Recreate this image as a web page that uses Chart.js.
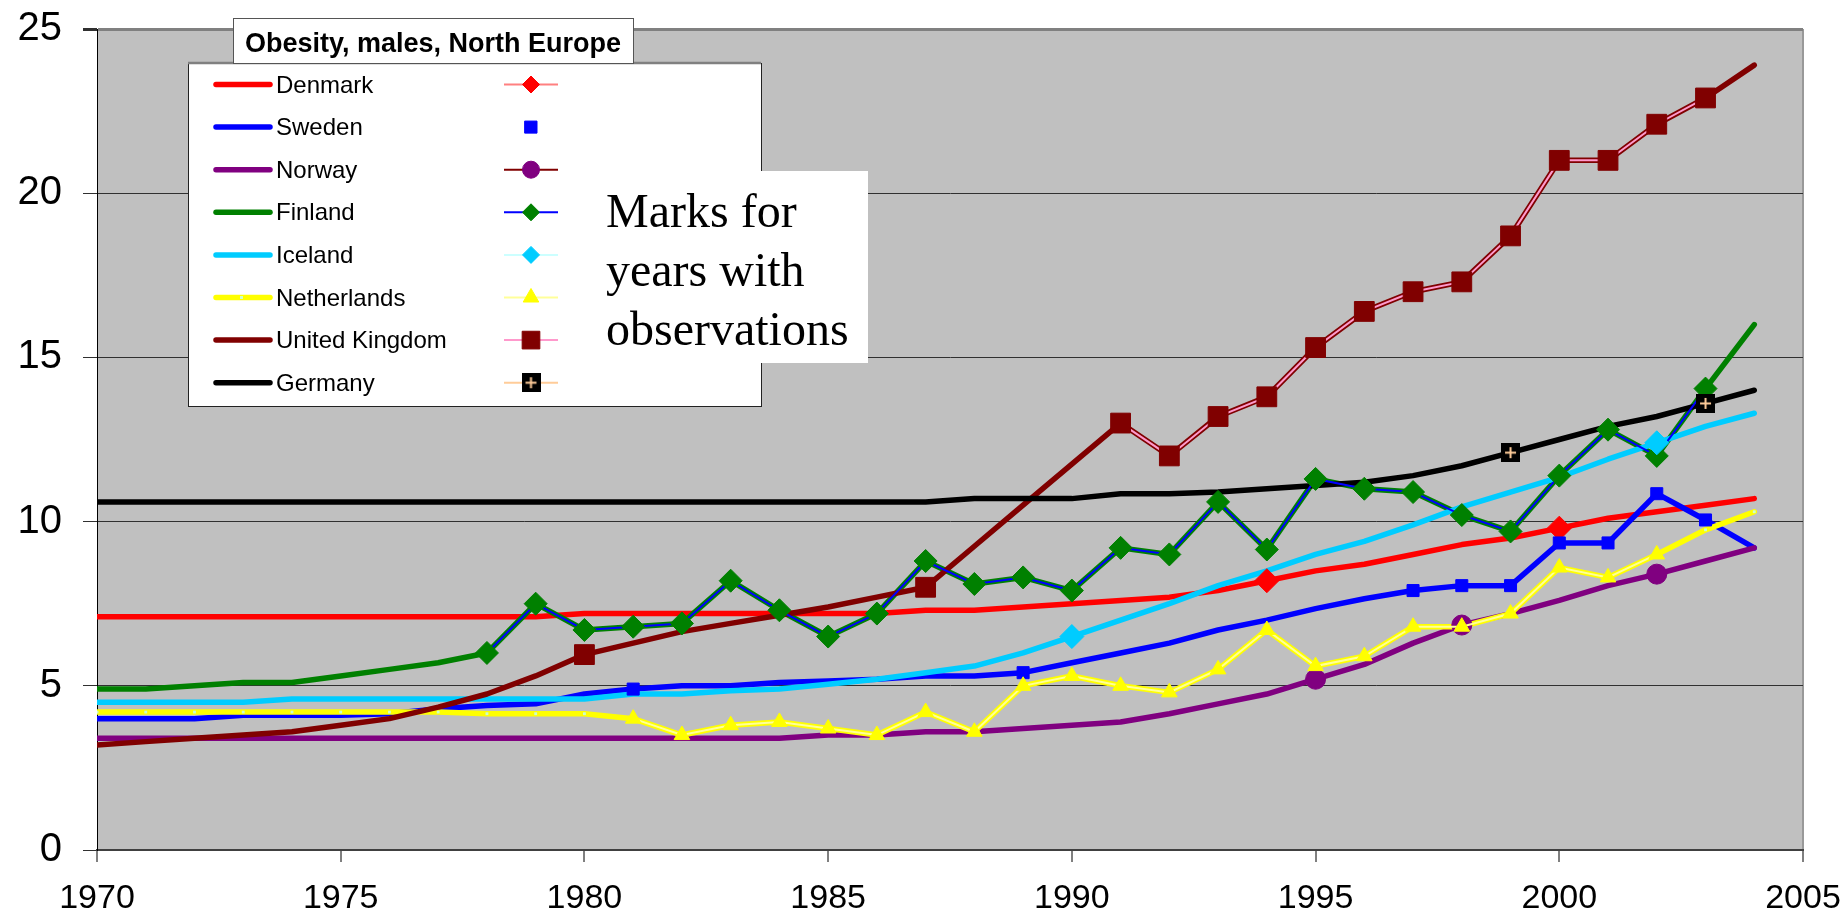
<!DOCTYPE html>
<html>
<head>
<meta charset="utf-8">
<title>Obesity, males, North Europe</title>
<script src="https://cdn.jsdelivr.net/npm/chart.js@4.4.1/dist/chart.umd.min.js"></script>
<style>
  html, body { margin: 0; padding: 0; background: #fff; }
  #wrap { width: 1847px; height: 918px; }
</style>
</head>
<body>
<div id="wrap"><canvas id="chart" width="1847" height="918"></canvas></div>
<script>
// =====================
// DATA (share of obese males, %)
// =====================
const years = [1970,1971,1972,1973,1974,1975,1976,1977,1978,1979,
               1980,1981,1982,1983,1984,1985,1986,1987,1988,1989,
               1990,1991,1992,1993,1994,1995,1996,1997,1998,1999,
               2000,2001,2002,2003,2004]

const denmark = [7.1,7.1,7.1,7.1,7.1,7.1,7.1,7.1,7.1,7.1,
                 7.2,7.2,7.2,7.2,7.2,7.2,7.2,7.3,7.3,7.4,
                 7.5,7.6,7.7,7.9,8.2,8.5,8.7,9.0,9.3,9.5,
                 9.8,10.1,10.3,10.5,10.7]
const sweden = [4.0,4.0,4.0,4.1,4.1,4.1,4.15,4.3,4.4,4.45,
                4.75,4.9,5.0,5.0,5.1,5.15,5.2,5.3,5.3,5.4,
                5.7,6.0,6.3,6.7,7.0,7.35,7.65,7.9,8.05,8.05,
                9.35,9.35,10.85,10.05,9.2]
const norway = [3.4,3.4,3.4,3.4,3.4,3.4,3.4,3.4,3.4,3.4,
                3.4,3.4,3.4,3.4,3.4,3.5,3.5,3.6,3.6,3.7,
                3.8,3.9,4.15,4.45,4.75,5.2,5.65,6.3,6.85,7.2,
                7.6,8.05,8.4,8.8,9.2]
const finland = [4.9,4.9,5.0,5.1,5.1,5.3,5.5,5.7,6.0,7.5,
                 6.7,6.8,6.9,8.2,7.3,6.5,7.2,8.8,8.1,8.3,
                 7.9,9.2,9.0,10.6,9.15,11.3,11.0,10.9,10.2,9.7,
                 11.4,12.8,12.0,14.05,16.0]
const iceland = [4.5,4.5,4.5,4.5,4.6,4.6,4.6,4.6,4.6,4.6,
                 4.6,4.75,4.75,4.85,4.9,5.05,5.2,5.4,5.6,6.0,
                 6.5,7.0,7.5,8.05,8.5,9.0,9.4,9.9,10.45,10.9,
                 11.35,11.9,12.4,12.9,13.3]
const netherlands = [4.2,4.2,4.2,4.2,4.2,4.2,4.2,4.2,4.15,4.15,
                     4.15,4.0,3.5,3.8,3.9,3.7,3.5,4.2,3.6,5.0,
                     5.3,5.0,4.8,5.5,6.7,5.6,5.9,6.8,6.8,7.2,
                     8.6,8.3,9.0,9.75,10.3]
const unitedKingdom = [3.2,3.3,3.4,3.5,3.6,3.8,4.0,4.35,4.75,5.3,
                       5.95,6.3,6.65,6.9,7.15,7.4,7.7,8.0,9.25,10.5,
                       11.75,13.0,12.0,13.2,13.8,15.3,16.4,17.0,17.3,18.7,
                       21.0,21.0,22.1,22.9,23.9]
const germany = [10.6,10.6,10.6,10.6,10.6,10.6,10.6,10.6,10.6,10.6,
                 10.6,10.6,10.6,10.6,10.6,10.6,10.6,10.6,10.7,10.7,
                 10.7,10.85,10.85,10.9,11.0,11.1,11.2,11.4,11.7,12.1,
                 12.5,12.9,13.2,13.6,14.0]

// years with observations (marked)
const denmarkObs = [1994, 2000]
const swedenObs = [1981, 1989, 1997, 1998, 1999, 2000, 2001, 2002, 2003]
const norwayObs = [1995, 1998, 2002]
const finlandObs = [1978,1979,1980,1981,1982,1983,1984,1985,1986,1987,1988,1989,1990,
                    1991,1992,1993,1994,1995,1996,1997,1998,1999,2000,2001,2002,2003]
const icelandObs = [1990, 2002]
const netherlandsObs = [1981,1982,1983,1984,1985,1986,1987,1988,1989,1990,1991,
                        1992,1993,1994,1995,1996,1997,1998,1999,2000,2001,2002]
const unitedKingdomObs = [1980,1987,1991,1992,1993,1994,1995,1996,1997,1998,1999,2000,2001,2002,2003]
const germanyObs = [1999, 2003]

const chartTitle = "Obesity, males, North Europe"
const noteLines = ["Marks for", "years with", "observations"]

// =====================
// STYLES
// =====================
// black square with a peach cross, used for Germany
function crossMark(){
  const c = document.createElement("canvas")
  c.width = 19; c.height = 19
  const g = c.getContext("2d")
  g.fillStyle = "#000"
  g.fillRect(0, 0, 19, 19)
  g.strokeStyle = "#FFCC99"
  g.lineWidth = 2
  g.beginPath()
  g.moveTo(4, 9.5); g.lineTo(15, 9.5)
  g.moveTo(9.5, 4); g.lineTo(9.5, 15)
  g.stroke()
  return c
}

const countries = [
  {name:"Denmark", values:denmark, obs:denmarkObs, line:"#FF0000", obsLine:"#FF8080", mark:"#FF0000", style:"rectRot", r:12, join:true},
  {name:"Sweden", values:sweden, obs:swedenObs, line:"#0000FF", obsLine:"#0000FF", mark:"#0000FF", style:"rect", r:8.5, join:false},
  {name:"Norway", values:norway, obs:norwayObs, line:"#800080", obsLine:"#800000", mark:"#800080", style:"circle", r:10, join:true},
  {name:"Finland", values:finland, obs:finlandObs, line:"#008000", obsLine:"#0000FF", mark:"#008000", style:"rectRot", r:11.5, join:true},
  {name:"Iceland", values:iceland, obs:icelandObs, line:"#00CCFF", obsLine:"#CCFFFF", mark:"#00CCFF", style:"rectRot", r:12, join:true},
  {name:"Netherlands", values:netherlands, obs:netherlandsObs, line:"#FFFF00", obsLine:"#FFFF99", mark:"#FFFF00", style:"triangle", r:9, join:true},
  {name:"United Kingdom", values:unitedKingdom, obs:unitedKingdomObs, line:"#800000", obsLine:"#FF99CC", mark:"#800000", style:"rect", r:14, join:true},
  {name:"Germany", values:germany, obs:germanyObs, line:"#000000", obsLine:"#FFCC99", mark:"#000000", style:crossMark(), r:10, join:true}
]

// =====================
// DATASETS
// =====================
const trendSets = countries.map((c, i) => ({
  label: c.name,
  data: years.map((yr, k) => ({x: yr, y: c.values[k]})),
  borderColor: c.line,
  borderWidth: 5.5,
  borderCapStyle: "round",
  borderJoinStyle: "round",
  pointRadius: c.name === "Netherlands" ? 2 : 0,
  pointStyle: "rect",
  pointBackgroundColor: "#CCFFCC",
  pointBorderWidth: 0,
  tension: 0,
  fill: false,
  order: 100 - i
}))

const obsSets = countries.map((c, i) => ({
  label: c.name + " (observed)",
  data: years.map((yr, k) => ({x: yr, y: c.obs.includes(yr) ? c.values[k] : null})),
  borderColor: c.obsLine,
  borderWidth: 2,
  showLine: c.join,
  spanGaps: false,
  pointStyle: c.style,
  pointRadius: c.r,
  pointBackgroundColor: c.mark,
  pointBorderColor: c.mark,
  pointBorderWidth: 1,
  tension: 0,
  fill: false,
  order: 50 - i
}))

// =====================
// PLUGINS
// =====================
const plotBg = {
  id: "plotBg",
  beforeDraw(chart){
    const {ctx, chartArea: a} = chart
    ctx.save()
    ctx.fillStyle = "#C0C0C0"
    ctx.fillRect(a.left, a.top, a.right - a.left, a.bottom - a.top)
    ctx.restore()
  }
}

// legend with two columns (lines | marks), title box and note box
const overlay = {
  id: "overlay",
  afterDraw(chart){
    const ctx = chart.ctx
    ctx.save()

    // legend box
    ctx.fillStyle = "#fff"
    ctx.fillRect(188, 63, 573, 343)
    ctx.strokeStyle = "#222"
    ctx.lineWidth = 1
    ctx.strokeRect(188.5, 63.5, 573, 343)
    ctx.strokeStyle = "#808080"
    ctx.lineWidth = 2.5
    ctx.beginPath(); ctx.moveTo(188, 63); ctx.lineTo(761, 63); ctx.stroke()

    countries.forEach((c, i) => {
      const y = 84.5 + i * 42.6
      // trend line sample
      ctx.strokeStyle = c.line
      ctx.lineWidth = 5.5
      ctx.lineCap = "round"
      ctx.beginPath(); ctx.moveTo(216, y); ctx.lineTo(270, y); ctx.stroke()
      if(c.name === "Netherlands"){
        ctx.fillStyle = "#CCFFCC"
        ctx.fillRect(240, y - 1.5, 3, 3)
      }
      ctx.fillStyle = "#000"
      ctx.font = "24px 'Liberation Sans', Arial, sans-serif"
      ctx.textBaseline = "alphabetic"
      ctx.textAlign = "left"
      ctx.fillText(c.name, 276, y + 8)

      // observation sample
      const ds = obsSets[i]
      if(ds.showLine){
        ctx.strokeStyle = ds.borderColor
        ctx.lineWidth = 2
        ctx.lineCap = "butt"
        ctx.beginPath(); ctx.moveTo(504, y); ctx.lineTo(558, y); ctx.stroke()
      }
      ctx.fillStyle = ds.pointBackgroundColor
      ctx.strokeStyle = ds.pointBorderColor
      ctx.lineWidth = 1
      let rr = ds.pointRadius
      if(ds.pointStyle === "rectRot" || ds.pointStyle === "circle") rr = 8.5
      if(ds.pointStyle === "rect" && rr > 10) rr = 12.5
      Chart.helpers.drawPoint(ctx, {pointStyle: ds.pointStyle, radius: rr, rotation: 0, borderWidth: 1}, 531, y)
    })

    // title box
    ctx.fillStyle = "#fff"
    ctx.fillRect(233, 18, 400, 45)
    ctx.strokeStyle = "#555"
    ctx.lineWidth = 1
    ctx.strokeRect(233.5, 18.5, 400, 45)
    ctx.fillStyle = "#000"
    ctx.font = "bold 27px 'Liberation Sans', Arial, sans-serif"
    ctx.textAlign = "center"
    ctx.textBaseline = "alphabetic"
    ctx.fillText(chartTitle, 433, 52)

    // note box
    ctx.fillStyle = "#fff"
    ctx.fillRect(589, 171, 279, 192)
    ctx.fillStyle = "#000"
    ctx.font = "48px 'Liberation Serif', 'Times New Roman', serif"
    ctx.textAlign = "left"
    noteLines.forEach((t, k) => ctx.fillText(t, 606, 227 + k * 59))

    ctx.restore()
  }
}

// =====================
// CHART
// =====================
new Chart(document.getElementById("chart"), {
  type: "line",
  data: { datasets: [...trendSets, ...obsSets] },
  options: {
    responsive: false,
    animation: false,
    devicePixelRatio: 1,
    layout: { padding: {top: 29, right: 44, left: 0, bottom: 0} },
    plugins: { legend: {display: false}, tooltip: {enabled: false}, title: {display: false} },
    scales: {
      x: {
        type: "linear", min: 1970, max: 2005,
        ticks: {
          stepSize: 5, padding: 16, color: "#000", maxRotation: 0, autoSkip: false,
          font: {family: "'Liberation Sans', Arial, sans-serif", size: 34},
          callback: v => String(v)
        },
        grid: {
          color: c => (c.tick && c.tick.value === 2005) ? "#999999" : "rgba(0,0,0,0)",
          lineWidth: 2, tickLength: 12, tickColor: "#000", tickWidth: 1
        },
        border: {display: true, color: "#404040", width: 2},
        afterFit: s => { s.height = 68; s.paddingLeft = 0; s.paddingRight = 0 }
      },
      y: {
        min: 0, max: 25,
        ticks: {
          stepSize: 5, padding: 21, color: "#000",
          font: {family: "'Liberation Sans', Arial, sans-serif", size: 40}
        },
        grid: {
          color: c => c.tick.value === 25 ? "#808080" : "#303030",
          lineWidth: c => c.tick.value === 25 ? 3 : 1,
          tickLength: 14, tickColor: "#303030"
        },
        border: {display: true, color: "#000", width: 1},
        afterFit: s => { s.width = 97; s.paddingTop = 0; s.paddingBottom = 0 }
      }
    }
  },
  plugins: [plotBg, overlay]
})
</script>
</body>
</html>
